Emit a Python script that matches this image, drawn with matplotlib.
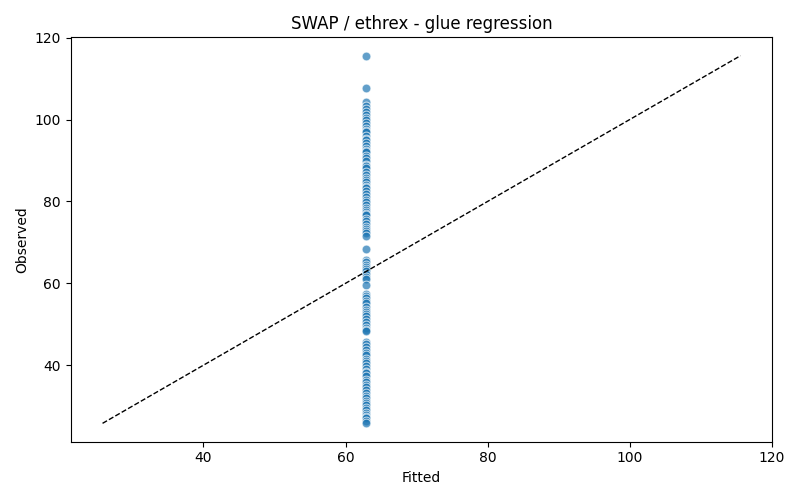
import numpy as np
import matplotlib
matplotlib.use("Agg")
import matplotlib.pyplot as plt

observed = [
    115.6, 107.8, 104.2, 103.2, 102.6, 101.8, 101.0, 100.3, 100.0, 99.2,
    98.5, 97.8, 97.2, 96.9, 96.0, 95.3, 95.0, 94.2, 93.5, 92.8,
    92.3, 92.0, 91.2, 90.5, 89.8, 89.0, 88.7, 88.2, 87.3, 86.5,
    85.8, 85.2, 84.8, 84.0, 83.5, 83.2, 82.5, 81.8, 81.0, 80.3,
    79.8, 79.2, 78.5, 78.0, 77.5, 77.0, 76.6, 75.8, 75.2, 74.5,
    73.8, 73.2, 72.9, 72.3, 71.6, 68.5, 65.8, 65.2, 64.6, 64.0,
    63.4, 62.9, 62.3, 61.6, 61.0, 59.7, 57.4, 56.9, 56.3, 55.8,
    55.1, 54.3, 53.6, 53.0, 52.6, 51.9, 51.2, 50.5, 49.8, 49.2,
    48.7, 48.4, 45.6, 45.2, 44.5, 43.8, 43.0, 42.4, 41.6, 41.0,
    40.6, 39.8, 39.0, 38.3, 38.0, 37.3, 36.5, 35.8, 35.2, 34.6,
    33.9, 33.2, 32.6, 32.0, 31.3, 30.8, 30.2, 29.5, 29.0, 28.4,
    27.8, 27.4, 27.0, 26.4, 25.8,
]
fitted_value = 62.9
fitted = [fitted_value] * len(observed)

fig, ax = plt.subplots(figsize=(8, 5), dpi=100)
ax.scatter(fitted, observed, s=40, color="#1f77b4", alpha=0.7,
           edgecolor="white", linewidth=0.75)

lo = min(min(fitted), min(observed))
hi = max(max(fitted), max(observed))
ax.plot([lo, hi], [lo, hi], "k--", linewidth=1)

ax.set_xlabel("Fitted")
ax.set_ylabel("Observed")
ax.set_title("SWAP / ethrex - glue regression")
plt.tight_layout()
plt.savefig("out.png", dpi=100)
